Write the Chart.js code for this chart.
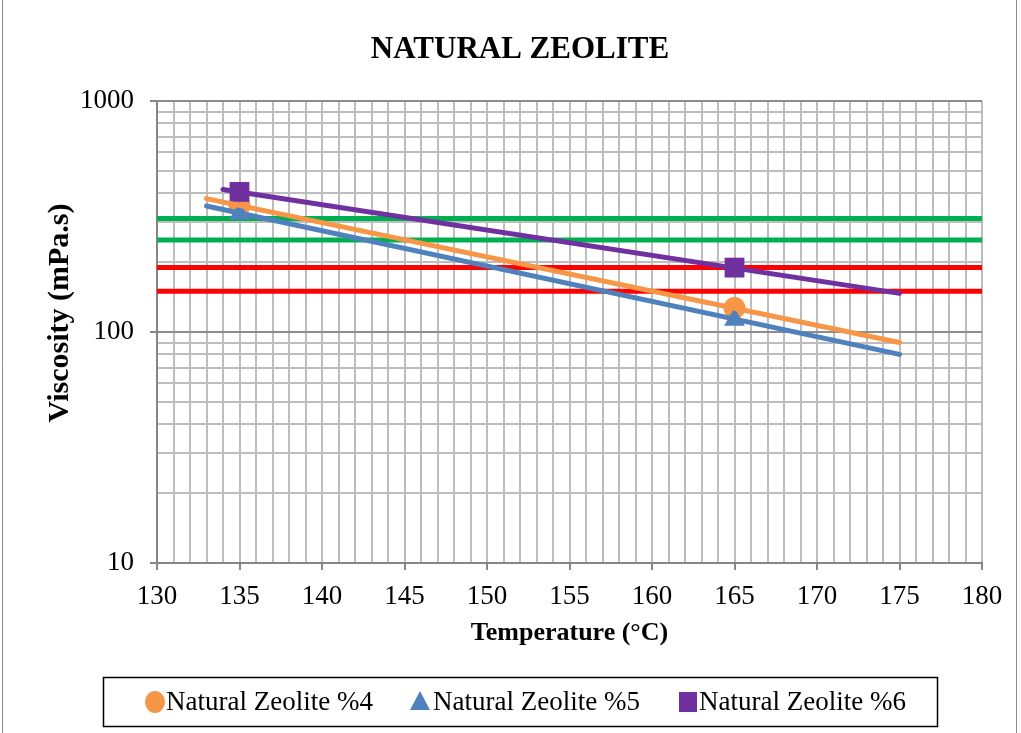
<!DOCTYPE html>
<html><head><meta charset="utf-8">
<script src="https://cdn.jsdelivr.net/npm/chart.js@4.4.1/dist/chart.umd.min.js"></script>
<style>
html,body{margin:0;padding:0;background:#fff;overflow:hidden}
#wrap{position:relative;width:1021px;height:733px}
canvas{display:block}
</style></head><body>
<div id="wrap"><canvas id="c" width="1021" height="733"></canvas></div>
<script>
// ---- data ----
const temperatures = [135, 165];
const zeolite4 = [353, 127];
const zeolite5 = [325, 113];
const zeolite6 = [404, 190];
const trendTemps4 = [133, 175];
const trend4 = [378, 90];
const trendTemps5 = [133, 175];
const trend5 = [351, 80];
const trendTemps6 = [134, 175];
const trend6 = [414, 147];
const limitTemps = [130, 180];
const greenLimits = [310, 250];
const redLimits = [190, 150];
const seriesNames = ['Natural Zeolite %4', 'Natural Zeolite %5', 'Natural Zeolite %6'];
const xTickLabels = [130, 135, 140, 145, 150, 155, 160, 165, 170, 175, 180];
const yTickLabels = [10, 100, 1000];
const chartTitle = 'NATURAL ZEOLITE';
const xTitle = 'Temperature (°C)';
const yTitle = 'Viscosity (mPa.s)';

// ---- styles ----
const colors = ['#F79646', '#4F81BD', '#7030A0'];
const pointStyles = ['circle', 'triangle', 'rect'];
const pointRadii = [11, 12, 14];
const GREEN = '#00B050', RED = '#FF0000';
const SERIF = '"Liberation Serif", "Times New Roman", serif';

const pts = (xs, ys) => xs.map((x, i) => ({ x: x, y: ys[i] }));
const datasets = [];

greenLimits.forEach(v => datasets.push({
  label: 'limit', data: pts(limitTemps, [v, v]), showLine: true, borderColor: GREEN,
  borderWidth: 5, pointRadius: 0, order: 10, borderCapStyle: 'round'
}));
redLimits.forEach(v => datasets.push({
  label: 'limit', data: pts(limitTemps, [v, v]), showLine: true, borderColor: RED,
  borderWidth: 5, pointRadius: 0, order: 10, borderCapStyle: 'round'
}));
[zeolite4, zeolite5, zeolite6].forEach((vals, i) => datasets.push({
  label: seriesNames[i], data: pts(temperatures, vals), showLine: false,
  pointStyle: pointStyles[i], pointRadius: pointRadii[i], pointHoverRadius: pointRadii[i],
  backgroundColor: colors[i], borderColor: colors[i], borderWidth: 0, order: 6 - i
}));
[[trendTemps4, trend4], [trendTemps5, trend5], [trendTemps6, trend6]].forEach((t, i) => datasets.push({
  label: 'trend', data: pts(t[0], t[1]), showLine: true, borderColor: colors[i],
  borderWidth: 5, pointRadius: 0, order: 1, borderCapStyle: 'round'
}));

const decorations = {
  id: 'decorations',
  afterDraw(chart) {
    const ctx = chart.ctx;
    ctx.save();
    ctx.fillStyle = '#000';
    // title
    ctx.font = 'bold 31px ' + SERIF;
    ctx.textAlign = 'center';
    ctx.textBaseline = 'middle';
    ctx.fillText(chartTitle, 520, 50);
    // y title
    ctx.save();
    ctx.translate(60, 313);
    ctx.rotate(-Math.PI / 2);
    ctx.font = 'bold 30px ' + SERIF;
    ctx.fillText(yTitle, 0, 0);
    ctx.restore();
    // legend box
    ctx.lineWidth = 1.5;
    ctx.strokeStyle = '#000';
    ctx.strokeRect(103.5, 677.5, 834, 49);
    const markerX = [155, 420, 688];
    const textX = [166, 433, 699];
    const cy = 702;
    ctx.font = '27px ' + SERIF;
    ctx.textAlign = 'left';
    seriesNames.forEach((name, i) => {
      ctx.fillStyle = colors[i];
      const cx = markerX[i];
      ctx.beginPath();
      if (pointStyles[i] === 'circle') {
        ctx.ellipse(cx, cy, 10, 11, 0, 0, Math.PI * 2);
      } else if (pointStyles[i] === 'triangle') {
        ctx.moveTo(cx, cy - 11);
        ctx.lineTo(cx + 10, cy + 8);
        ctx.lineTo(cx - 10, cy + 8);
        ctx.closePath();
      } else {
        ctx.rect(cx - 9, cy - 10, 18, 20);
      }
      ctx.fill();
      ctx.fillStyle = '#000';
      ctx.fillText(name, textX[i], cy + 1);
    });
    // outer border
    ctx.strokeStyle = '#8a8a8a';
    ctx.lineWidth = 1;
    ctx.beginPath();
    ctx.moveTo(2.5, 0); ctx.lineTo(2.5, 733);
    ctx.moveTo(1016.5, 0); ctx.lineTo(1016.5, 733);
    ctx.stroke();
    ctx.restore();
  }
};

new Chart(document.getElementById('c'), {
  type: 'scatter',
  data: { datasets: datasets },
  options: {
    responsive: false,
    animation: false,
    devicePixelRatio: 1,
    layout: { padding: { left: 0, top: 101, right: 39, bottom: 83 } },
    plugins: { legend: { display: false }, tooltip: { enabled: false }, title: { display: false } },
    scales: {
      x: {
        type: 'linear', min: 130, max: 180,
        afterBuildTicks(scale) {
          const t = [];
          for (let v = 130; v <= 180; v++) t.push({ value: v });
          scale.ticks = t;
        },
        afterFit(scale) { scale.height = 87; },
        ticks: {
          autoSkip: false, maxRotation: 0, minRotation: 0, padding: 11,
          color: '#000', font: { family: SERIF, size: 27 },
          callback: (v) => xTickLabels.includes(v) ? String(v) : ''
        },
        grid: {
          color: '#bdbdbd', lineWidth: 2, tickLength: 7,
          tickColor: (c) => (c.tick && xTickLabels.includes(c.tick.value)) ? '#868686' : 'rgba(0,0,0,0)'
        },
        border: { color: '#868686', width: 2 },
        title: {
          display: true, text: xTitle, color: '#000',
          font: { family: SERIF, size: 26, weight: 'bold' }, padding: { top: 0, bottom: 1 }
        }
      },
      y: {
        type: 'logarithmic', min: 10, max: 1000,
        afterBuildTicks(scale) {
          const t = [];
          for (let d = 10; d < 1000; d *= 10) for (let m = 1; m < 10; m++) t.push({ value: m * d });
          t.push({ value: 1000 });
          scale.ticks = t;
        },
        afterFit(scale) { scale.width = 157; },
        ticks: {
          autoSkip: false, padding: 16, color: '#000', font: { family: SERIF, size: 27 },
          callback: (v) => yTickLabels.includes(v) ? String(v) : ''
        },
        grid: {
          color: (c) => (c.tick && yTickLabels.includes(c.tick.value)) ? '#8c8c8c' : '#bdbdbd',
          lineWidth: 2, tickLength: 7,
          tickColor: (c) => (c.tick && yTickLabels.includes(c.tick.value)) ? '#868686' : 'rgba(0,0,0,0)'
        },
        border: { color: '#868686', width: 2 }
      }
    }
  },
  plugins: [decorations]
});
</script>
</body></html>
